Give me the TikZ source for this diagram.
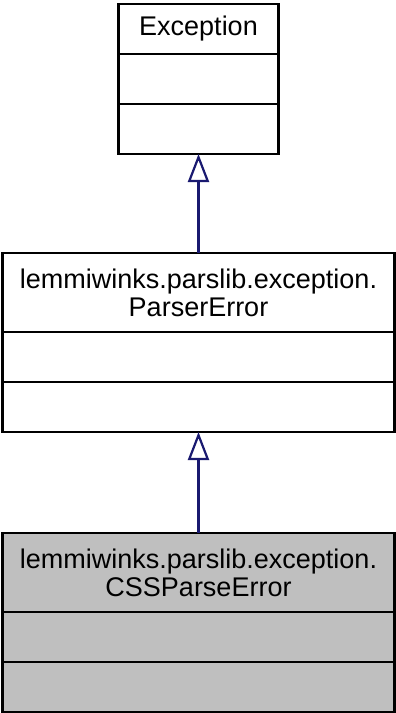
\documentclass[tikz,border=0pt]{standalone}
\usepackage{fontspec}
\setmainfont{Liberation Sans}
\usetikzlibrary{arrows.meta,positioning}
\definecolor{edgeblue}{RGB}{25,25,112}
\definecolor{hlgray}{RGB}{191,191,191}

\begin{document}
\begin{tikzpicture}[x=1pt, y=-1pt,
    part/.style={draw=black, line width=2.4pt, outer sep=0pt, inner sep=0pt,
      minimum width=#1, minimum height=50pt, align=center,
      font=\fontsize{27}{28}\selectfont},
    titlepart/.style={part=#1, minimum height=79pt},
    inherit/.style={draw=edgeblue, line width=2.2pt,
      -{Triangle[open, length=28pt, width=21pt, line width=2.2pt]}}]
  \useasboundingbox (0,0) rectangle (396,713);

  % base class
  \node[part=160pt] (exc) at (198.5,29) {Exception};
  \node[part=160pt, below=0pt of exc] (excattr) {};
  \node[part=160pt, below=0pt of excattr] (excops) {};

  % parser error
  \node[titlepart=392pt] (parser) at (198.5,292.5)
    {lemmiwinks.parslib.exception.\\ParserError};
  \node[part=392pt, below=0pt of parser] (parserattr) {};
  \node[part=392pt, below=0pt of parserattr] (parserops) {};

  % css parse error (highlighted)
  \node[titlepart=392pt, fill=hlgray] (css) at (198.5,572.5)
    {lemmiwinks.parslib.exception.\\CSSParseError};
  \node[part=392pt, fill=hlgray, below=0pt of css] (cssattr) {};
  \node[part=392pt, fill=hlgray, below=0pt of cssattr] (cssops) {};

  % inheritance
  \draw[inherit] (parser.north) -- (excops.south);
  \draw[inherit] (css.north) -- (parserops.south);
\end{tikzpicture}
\end{document}
